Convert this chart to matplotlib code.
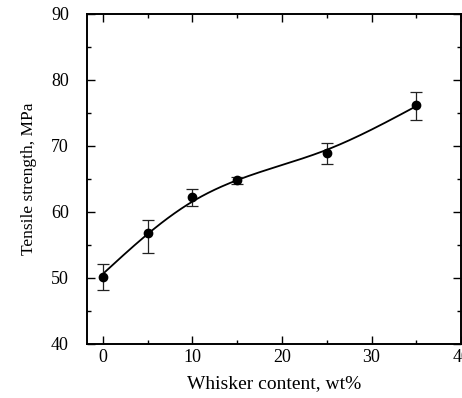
import numpy as np
import matplotlib.pyplot as plt
from matplotlib.ticker import MultipleLocator

# datos
contenido = [0, 5, 10, 15, 25, 35]             # wt%
resistencia = [50.2, 56.8, 62.2, 64.8, 68.9, 76.2]  # MPa
err_sup = [1.9, 1.9, 1.3, 0.5, 1.6, 2.0]
err_inf = [2.0, 3.0, 1.3, 0.5, 1.7, 2.2]


def suavizado(x, y, paso=0.25, lam=2800.0):
    # suavizado tipo Whittaker sobre una malla fina (aprox. spline de suavizado)
    malla = np.arange(min(x), max(x) + paso / 2, paso)
    n = len(malla)
    W = np.zeros(n)
    yy = np.zeros(n)
    for xi, yi in zip(x, y):
        k = int(round((xi - malla[0]) / paso))
        W[k] = 1.0
        yy[k] = yi
    D = np.diff(np.eye(n), 2, axis=0)
    z = np.linalg.solve(np.diag(W) + lam * D.T @ D, W * yy)
    return malla, z


plt.rcParams['font.family'] = ['Liberation Serif', 'DejaVu Serif']

fig = plt.figure(figsize=(4.62, 3.98), dpi=100)
ax = fig.add_axes([0.188, 0.136, 0.81, 0.829])

xs, ys = suavizado(contenido, resistencia)
ax.plot(xs, ys, color='black', lw=1.3)

ax.errorbar(contenido, resistencia, yerr=[err_inf, err_sup], fmt='o',
            color='black', ms=6, ecolor='#222222', elinewidth=0.9,
            capsize=4.3, capthick=0.9)

ax.set_xlim(-1.8, 40)
ax.set_ylim(40, 90)
ax.xaxis.set_major_locator(MultipleLocator(10))
ax.xaxis.set_minor_locator(MultipleLocator(5))
ax.yaxis.set_major_locator(MultipleLocator(10))
ax.yaxis.set_minor_locator(MultipleLocator(5))
ax.tick_params(which='both', direction='in', top=True, right=True,
               labelsize=13, width=1)
ax.tick_params(which='major', length=6)
ax.tick_params(axis='y', which='major', pad=13)
ax.tick_params(axis='x', which='major', pad=4)
ax.tick_params(which='minor', length=3)
for s in ax.spines.values():
    s.set_linewidth(1.4)

ax.set_xlabel("Whisker content, wt%", fontsize=14, labelpad=6)
ax.set_ylabel("Tensile strength, MPa", fontsize=12.5, labelpad=10)

fig.savefig("out.png", dpi=100)
